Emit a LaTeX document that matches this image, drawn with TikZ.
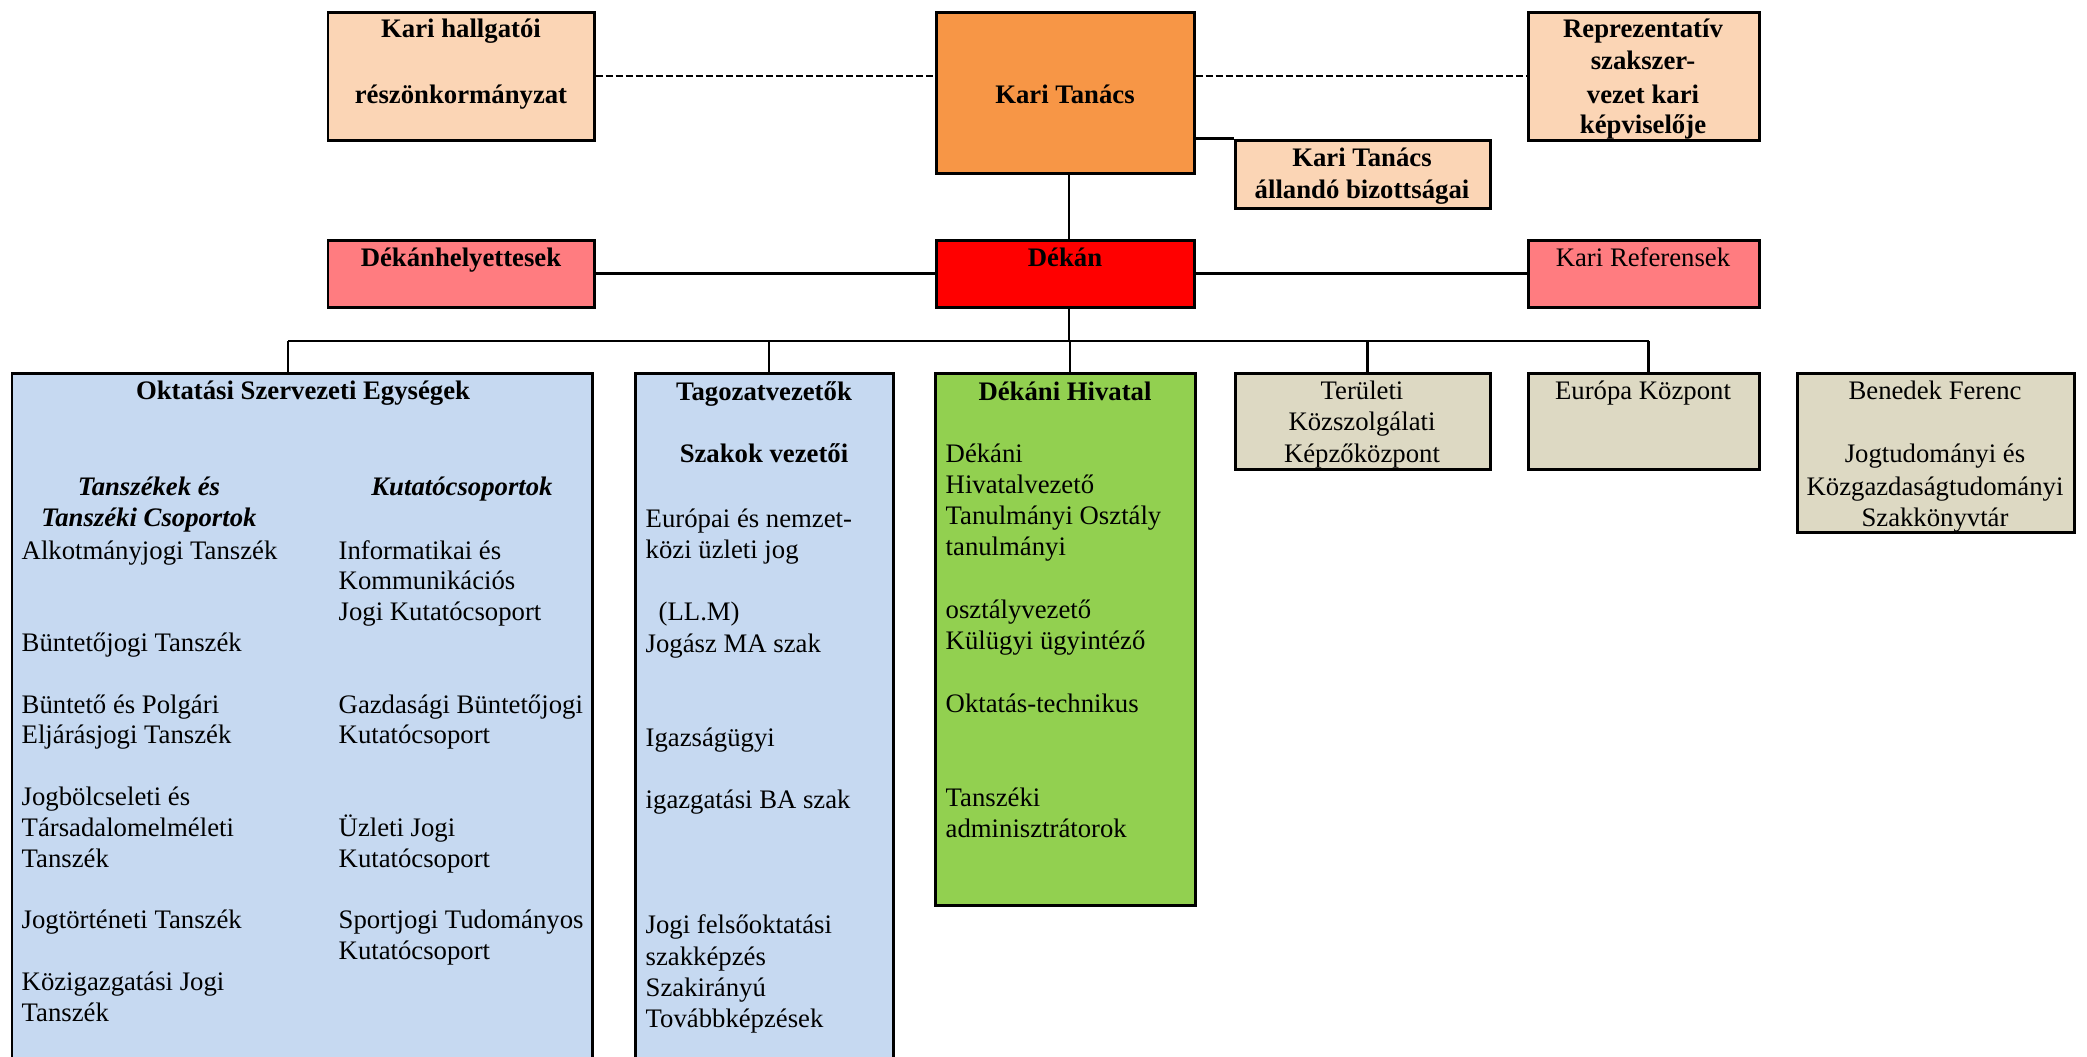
\documentclass[tikz,border=0pt]{standalone}
\usepackage{fontspec}
\setmainfont{Liberation Serif}
\usetikzlibrary{fit,calc}

\definecolor{peach}{HTML}{FBD5B5}
\definecolor{tanacs}{HTML}{F79646}
\definecolor{salmon}{HTML}{FF7C80}
\definecolor{dekanred}{HTML}{FF0000}
\definecolor{skyblue}{HTML}{C6D9F1}
\definecolor{leaf}{HTML}{92D050}
\definecolor{sand}{HTML}{DDD9C3}
\newcommand{\fs}{\fontsize{7.6}{9}\selectfont}

\tikzset{
  box/.style={draw, line width=0.85pt, inner sep=0pt},
  conn/.style={line width=0.65pt},
  dashconn/.style={line width=0.65pt, dash pattern=on 2pt off 0.85pt},
  txt/.style={inner sep=0pt, anchor=mid, font=\fs},
  hd/.style={txt, font=\fs\bfseries},
  sub/.style={txt, font=\fs\bfseries\itshape},
  item/.style={inner sep=0pt, anchor=mid west, font=\fs}
}

\begin{document}
\begin{tikzpicture}[x=0.01cm, y=-0.01cm]
    \clip (0,0) rectangle (2087,1056);

    \node[box, fill=peach, fit={(328,12) (594,140)}] (hallg) {};
    \node[box, fill=tanacs, fit={(936,12) (1194,173)}] (kt) {};
    \node[box, fill=peach, fit={(1528,12) (1759,140)}] (repr) {};
    \node[box, fill=peach, fit={(1235,140) (1490,208)}] (allando) {};
    \node[box, fill=salmon, fit={(328,240) (594,307)}] (helyettes) {};
    \node[box, fill=dekanred, fit={(936,240) (1194,307)}] (dekan) {};
    \node[box, fill=salmon, fit={(1528,240) (1759,307)}] (referens) {};
    \node[box, fill=skyblue, fit={(12,373) (592,1070)}] (okt) {};
    \node[box, fill=skyblue, fit={(635,373) (893,1070)}] (tagozat) {};
    \node[box, fill=leaf, fit={(935,373) (1195,905)}] (hivatal) {};
    \node[box, fill=sand, fit={(1235,373) (1490,469)}] (terulet) {};
    \node[box, fill=sand, fit={(1528,373) (1759,469)}] (europa) {};
    \node[box, fill=sand, fit={(1797,373) (2074,532)}] (konyvtar) {};

    \node[hd] (hallg-1) at (461,29) {Kari hallgatói};
    \node[hd] (hallg-2) at (461,95) {részönkormányzat};
    \node[hd] (kt-1) at (1065,95) {Kari Tanács};
    \node[hd] (repr-1) at (1643,29) {Reprezentatív};
    \node[hd] (repr-2) at (1643,61) {szakszer-};
    \node[hd] (repr-3) at (1643,95) {vezet kari};
    \node[hd] (repr-4) at (1643,125) {képviselője};
    \node[hd] (allando-1) at (1362,158) {Kari Tanács};
    \node[hd] (allando-2) at (1362,190) {állandó bizottságai};
    \node[hd] (helyettes-1) at (461,258) {Dékánhelyettesek};
    \node[hd] (dekan-1) at (1065,258) {Dékán};
    \node[txt] (referens-1) at (1643,258) {Kari Referensek};

    \node[hd] (okt-1) at (303,391) {Oktatási Szervezeti Egységek};
    \node[sub] (okt-2) at (149,487) {Tanszékek és};
    \node[sub] (okt-3) at (149,518) {Tanszéki Csoportok};
    \node[sub] (okt-4) at (462,487) {Kutatócsoportok};
    \foreach \n/\t in {0/Alkotmányjogi Tanszék, 3/Büntetőjogi Tanszék,
        5/Büntető és Polgári, 6/Eljárásjogi Tanszék, 8/Jogbölcseleti és,
        9/Társadalomelméleti, 10/Tanszék, 12/Jogtörténeti Tanszék,
        14/Közigazgatási Jogi, 15/Tanszék}
      \node[item] (tsz-\n) at (21,{551+30.8*\n}) {\t};
    \foreach \n/\t in {0/Informatikai és, 1/Kommunikációs, 2/Jogi Kutatócsoport,
        5/Gazdasági Büntetőjogi, 6/Kutatócsoport, 9/Üzleti Jogi,
        10/Kutatócsoport, 12/Sportjogi Tudományos, 13/Kutatócsoport}
      \node[item] (kcs-\n) at (338,{551+30.8*\n}) {\t};

    \node[hd] (tagozat-1) at (764,392) {Tagozatvezetők};
    \node[hd] (tagozat-2) at (764,454) {Szakok vezetői};
    \foreach \n/\t in {0/Európai és nemzet-, 1/közi üzleti jog, 4/Jogász MA szak,
        7/Igazságügyi, 9/igazgatási BA szak, 13/Jogi felsőoktatási,
        14/szakképzés, 15/Szakirányú, 16/Továbbképzések}
      \node[item] (szak-\n) at (645,{519+31.3*\n}) {\t};
    \node[item] (szak-3) at (658,{519+31.3*3}) {(LL.M)};

    \node[hd] (hivatal-1) at (1065,392) {Dékáni Hivatal};
    \foreach \n/\t in {0/Dékáni, 1/Hivatalvezető, 2/Tanulmányi Osztály,
        3/tanulmányi, 5/osztályvezető, 6/Külügyi ügyintéző,
        8/Oktatás-technikus, 11/Tanszéki, 12/adminisztrátorok}
      \node[item] (hiv-\n) at (945,{454+31.3*\n}) {\t};

    \node[txt] (terulet-1) at (1362,391) {Területi};
    \node[txt] (terulet-2) at (1362,422) {Közszolgálati};
    \node[txt] (terulet-3) at (1362,454) {Képzőközpont};
    \node[txt] (europa-1) at (1643,391) {Európa Központ};
    \node[txt] (konyvtar-1) at (1935,391) {Benedek Ferenc};
    \node[txt] (konyvtar-2) at (1935,454) {Jogtudományi és};
    \node[txt] (konyvtar-3) at (1935,487) {Közgazdaságtudományi};
    \node[txt] (konyvtar-4) at (1935,518) {Szakkönyvtár};

    \draw[dashconn] (hallg.east) -- (hallg.east -| kt.west);
    \draw[dashconn] (kt.east |- repr.west) -- (repr.west);
    \draw[conn] (allando.north west) -- (allando.north west -| kt.east);
    \draw[conn] ($(kt.south)+(4,0)$) -- ($(dekan.north)+(4,0)$);
    \draw[conn] (helyettes.east) -- (dekan.west);
    \draw[conn] (dekan.east) -- (referens.west);

    \coordinate (bus) at (1069,341);
    \coordinate (okt-in) at (288,373);
    \draw[conn] ($(dekan.south)+(4,0)$) -- (bus);
    \draw[conn] (okt-in |- bus) -- ($(europa.north |- bus)+(5,0)$);
    \draw[conn] (okt-in |- bus) -- (okt-in);
    \foreach \b in {tagozat, hivatal, terulet, europa}
      \draw[conn] ($(\b.north |- bus)+(5,0)$) -- ($(\b.north)+(5,0)$);
\end{tikzpicture}
\end{document}
